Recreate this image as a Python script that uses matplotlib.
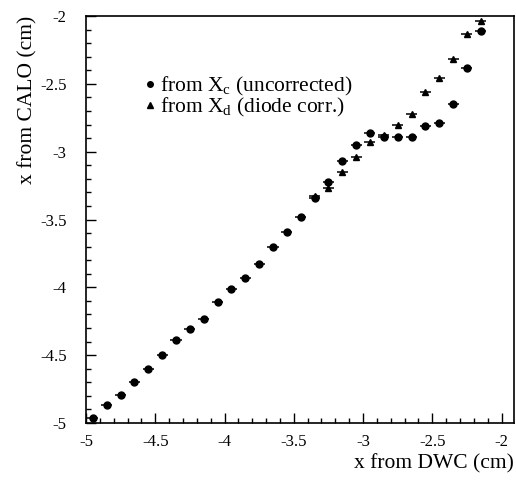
import matplotlib
matplotlib.use("Agg")
import matplotlib.pyplot as plt
from matplotlib.lines import Line2D
from matplotlib.ticker import MultipleLocator

plt.rcParams['font.family'] = ['Liberation Serif', 'DejaVu Serif']
plt.rcParams['mathtext.fontset'] = 'custom'
plt.rcParams['mathtext.rm'] = 'Liberation Serif'
plt.rcParams['mathtext.it'] = 'Liberation Serif:italic'

# Data
x_c = [-4.95, -4.85, -4.75, -4.65, -4.55, -4.45, -4.35, -4.25, -4.15, -4.05,
       -3.95, -3.85, -3.75, -3.65, -3.55, -3.45, -3.35, -3.25, -3.15, -3.05,
       -2.95, -2.85, -2.75, -2.65, -2.55, -2.45, -2.35, -2.25, -2.15]
y_c = [-4.96, -4.87, -4.79, -4.70, -4.60, -4.50, -4.39, -4.31, -4.23, -4.11,
       -4.01, -3.93, -3.83, -3.70, -3.59, -3.48, -3.34, -3.22, -3.07, -2.95,
       -2.86, -2.89, -2.89, -2.89, -2.81, -2.79, -2.65, -2.38, -2.11]
x_d = [-3.35, -3.25, -3.15, -3.05, -2.95, -2.85, -2.75, -2.65, -2.55, -2.45,
       -2.35, -2.25, -2.15]
y_d = [-3.33, -3.27, -3.15, -3.04, -2.93, -2.88, -2.80, -2.72, -2.56, -2.455,
       -2.32, -2.135, -2.035]
x_err = 0.04

labels = ["from X$_{\\mathrm{c}}$ (uncorrected)", "from X$_{\\mathrm{d}}$ (diode corr.)"]
xlabel = "x from DWC (cm)"
ylabel = "x from CALO (cm)"

fig = plt.figure(figsize=(5.16, 4.80), dpi=100)
ax = fig.add_axes([86/516, 1-423/480, 428/516, 407/480])

ax.errorbar(x_c, y_c, xerr=x_err, fmt='o', color='black', ms=5.0,
            elinewidth=1.1, capsize=0, zorder=3)
ax.errorbar(x_d, y_d, xerr=x_err, fmt='^', color='black', ms=4.8,
            elinewidth=1.1, capsize=0, zorder=3)

ax.set_xlim(-5, -1.91)
ax.set_ylim(-5, -2)
ax.xaxis.set_major_locator(MultipleLocator(0.5))
ax.xaxis.set_minor_locator(MultipleLocator(0.1))
ax.yaxis.set_major_locator(MultipleLocator(0.5))
ax.yaxis.set_minor_locator(MultipleLocator(0.1))
ax.xaxis.set_major_formatter(matplotlib.ticker.FuncFormatter(lambda v, p: f"{v:g}"))
ax.yaxis.set_major_formatter(matplotlib.ticker.FuncFormatter(lambda v, p: f"{v:g}"))
ax.tick_params(which='both', direction='in', labelsize=12, width=1)
ax.tick_params(which='major', length=7, pad=8)
ax.tick_params(which='minor', length=3.5)
ax.tick_params(axis='y', which='major', pad=14)
for s in ax.spines.values():
    s.set_linewidth(1.2)

ax.set_xlabel(xlabel, fontsize=15.5, loc='right', labelpad=3)
ax.set_ylabel(ylabel, fontsize=15.5, loc='top', labelpad=2)

handles = [Line2D([], [], ls='none', marker='o', color='black', ms=4),
           Line2D([], [], ls='none', marker='^', color='black', ms=4)]
ax.legend(handles, labels, loc='upper left', bbox_to_anchor=(0.135, 0.855),
          frameon=False, fontsize=15.5, handlelength=0.6, handletextpad=0.15,
          labelspacing=-0.1, borderpad=0, borderaxespad=0)

fig.savefig("out.png", dpi=100)
